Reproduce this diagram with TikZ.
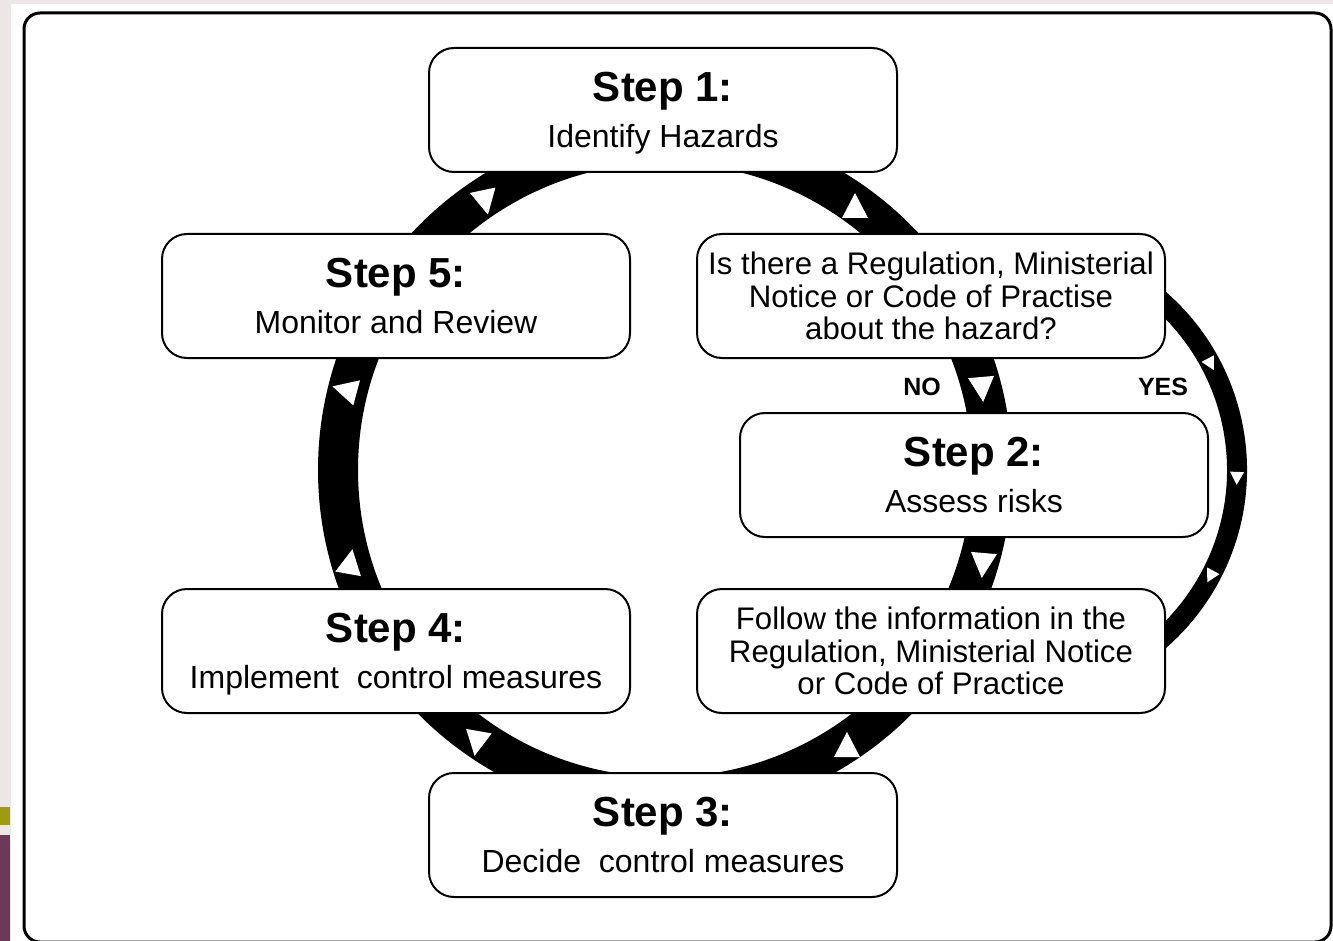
\documentclass[tikz,border=0pt]{standalone}
\usepackage{fontspec}
\setmainfont{Liberation Sans}
\definecolor{paleback}{HTML}{ECE7E6}
\definecolor{olivebar}{HTML}{9E9C0C}
\definecolor{plumbar}{HTML}{6E3858}
\newcommand{\steptitle}[1]{{\fontsize{21}{23}\selectfont\bfseries #1}}
\tikzset{
    stepbox/.style={draw, fill=white, line width=1pt, rounded corners=12.5pt,
        minimum width=234pt, minimum height=62pt, align=center, text depth=0pt,
        font=\fontsize{16}{23}\selectfont},
    infobox/.style={stepbox, font=\fontsize{15.6}{16.2}\selectfont},
    ring/.style={line width=20pt},
    yesring/.style={line width=10pt},
    pointer/.style={fill=white},
    answer/.style={font=\fontsize{12.5}{14}\selectfont\bfseries}
}
\begin{document}
\begin{tikzpicture}[x=0.5pt,y=0.5pt]
    \useasboundingbox (0,0) rectangle (1333,-941);
    \fill[paleback] (0,0) rectangle (1333,-941);
    \fill[white] (11,-4) rectangle (1333,-941);
    \fill[olivebar] (0,-807) rectangle (10,-825);
    \fill[plumbar] (0,-835) rectangle (10,-941);
    \draw[line width=1.5pt, rounded corners=8pt] (24,-13) rectangle (1331,-942);

    \coordinate (hub) at (665,-470);
    \coordinate (loop) at (1011,-470);

    \draw[ring] (hub) circle (163.5pt);
    \draw[yesring] (loop) ++(60:113pt) arc[start angle=60, end angle=-60, radius=113pt];

    \foreach \px/\py/\dir in {855/207/90, 485/201/-78, 346/390/165, 350/563/80, 477/742/-100, 847/746/90, 982/388/-85, 983/564/-95}
        {\fill[pointer, shift={(\px,-\py)}, rotate=\dir] (14,0) -- (-11,13) -- (-11,-13) -- cycle;}

    \begin{scope}[shift={(loop)}]
        \foreach \a in {28,-2,-28} {\fill[pointer, rotate=\a, shift={(226,0)}, rotate=-90] (7,0) -- (-6,7) -- (-6,-7) -- cycle;}
    \end{scope}

    \node[stepbox] (identify) at (663,-110) {\steptitle{Step 1:}\\Identify Hazards};
    \node[stepbox] (monitor) at (396,-296) {\steptitle{Step 5:}\\Monitor and Review};
    \node[infobox] (question) at (931,-296) {Is there a Regulation, Ministerial\\Notice or Code of Practise\\about the hazard?};
    \node[stepbox] (assess) at (974,-475) {\steptitle{Step 2:}\\Assess risks};
    \node[stepbox] (implement) at (396,-651) {\steptitle{Step 4:}\\Implement~ control measures};
    \node[infobox] (follow) at (931,-651) {Follow the information in the\\Regulation, Ministerial Notice\\or Code of Practice};
    \node[stepbox] (decide) at (663,-835) {\steptitle{Step 3:}\\Decide~ control measures};

    \node[answer] (no) at (922,-387) {NO};
    \node[answer] (yes) at (1163,-387) {YES};
\end{tikzpicture}
\end{document}
